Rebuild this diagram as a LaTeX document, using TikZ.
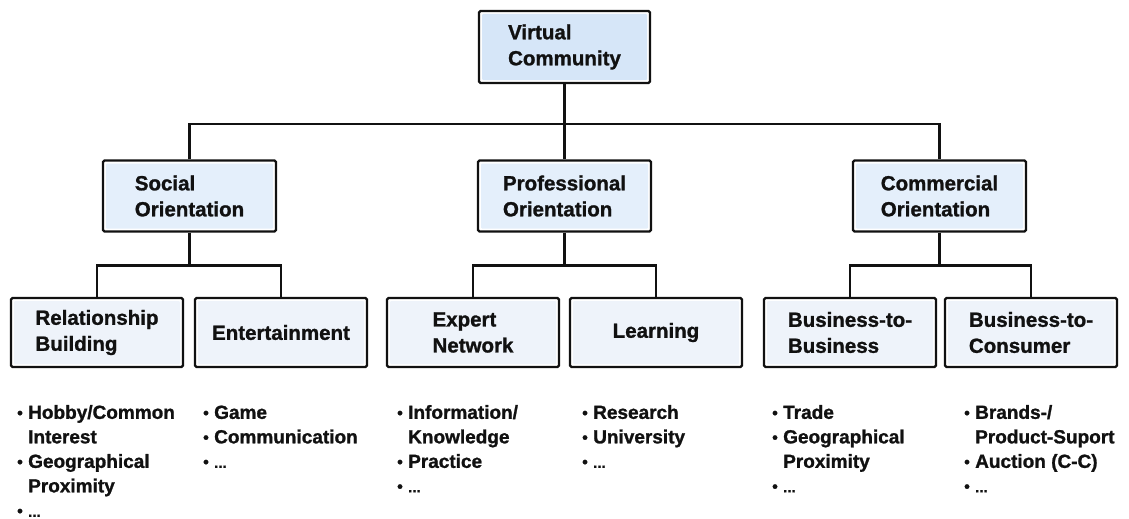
\documentclass[tikz,border=0pt]{standalone}
\usepackage{fontspec}
\setmainfont{Liberation Sans}[BoldFont={Liberation Sans Bold}, BoldFeatures={FakeBold=1.2}]
\definecolor{topfill}{HTML}{D6E6F8}
\definecolor{midfill}{HTML}{E4EFFB}
\definecolor{lowfill}{HTML}{EEF3FA}
\definecolor{ink}{HTML}{111111}
\tikzset{
  box/.style={draw=ink, line width=2.4pt, rounded corners=1.5pt, fill=white,
    inner sep=0pt, align=left, text=ink,
    font=\bfseries\fontsize{20.5}{26}\selectfont,
    path picture={\fill[#1, rounded corners=1pt]
      ([shift={(3pt,3pt)}]path picture bounding box.south west) rectangle
      ([shift={(-3pt,-3pt)}]path picture bounding box.north east);}},
  topbox/.style={box=topfill, minimum width=171pt, minimum height=72pt},
  midbox/.style={box=midfill, minimum width=173pt, minimum height=71pt},
  lowbox/.style={box=lowfill, minimum width=172pt, minimum height=69pt},
  link/.style={draw=ink, line width=2.2pt},
  bullets/.style={anchor=north west, inner sep=0pt, align=left, text=ink,
    font=\bfseries\fontsize{19}{24.5}\selectfont},
}
\newcommand{\bul}{\makebox[11pt][l]{\raisebox{0.5pt}{\fontsize{16}{16}\selectfont •}}}
\newcommand{\cont}{\hspace*{11pt}}
\newcommand{\etc}{{\fontsize{15}{15}\selectfont ...}}
\begin{document}
\begin{tikzpicture}[x=1pt, y=-1pt]
\useasboundingbox (0,0) rectangle (1129,519);

% hierarchy boxes
\node[topbox] (vc) at (564.5,47) {Virtual\\Community};

\node[midbox] (so) at (189.5,196) {Social\\Orientation};
\node[midbox] (po) at (564.5,196) {Professional\\Orientation};
\node[midbox] (co) at (939.5,196) {Commercial\\Orientation};

\node[lowbox] (rb) at (97,332.5)   {Relationship\\Building};
\node[lowbox] (en) at (281,332.5)  {Entertainment};
\node[lowbox] (ex) at (473,332.5)  {Expert\\Network};
\node[lowbox] (le) at (656,332.5)  {Learning};
\node[lowbox] (bb) at (850,332.5)  {Business-to-\\Business};
\node[lowbox] (bc) at (1031,332.5) {Business-to-\\Consumer};

% junction points of the tree
\coordinate (bus)  at (564.5,124);
\coordinate (sobus) at (189.5,265.5);
\coordinate (pobus) at (564.5,265.5);
\coordinate (cobus) at (939.5,265.5);

% connectors
\draw[link] (vc.south) -- (bus);
\draw[link] (so.north) -- (so.north |- bus) -- (co.north |- bus) -- (co.north);
\draw[link] (po.north) -- (bus);

\draw[link] (so.south) -- (sobus);
\draw[link] (rb.north) -- (rb.north |- sobus) -- (en.north |- sobus) -- (en.north);
\draw[link] (po.south) -- (pobus);
\draw[link] (ex.north) -- (ex.north |- pobus) -- (le.north |- pobus) -- (le.north);
\draw[link] (co.south) -- (cobus);
\draw[link] (bb.north) -- (bb.north |- cobus) -- (bc.north |- cobus) -- (bc.north);

% examples under each category
\node[bullets] (l1) at (17,401.5) {\strut\bul Hobby/Common\\\cont Interest\\\bul Geographical\\\cont Proximity\\\bul \etc};
\node[bullets] (l2) at (203,401.5) {\strut\bul Game\\\bul Communication\\\bul \etc};
\node[bullets] (l3) at (397,401.5) {\strut\bul Information/\\\cont Knowledge\\\bul Practice\\\bul \etc};
\node[bullets] (l4) at (582,401.5) {\strut\bul Research\\\bul University\\\bul \etc};
\node[bullets] (l5) at (772,401.5) {\strut\bul Trade\\\bul Geographical\\\cont Proximity\\\bul \etc};
\node[bullets] (l6) at (964,401.5) {\strut\bul Brands-/\\\cont Product-Suport\\\bul Auction (C-C)\\\bul \etc};
\end{tikzpicture}
\end{document}
